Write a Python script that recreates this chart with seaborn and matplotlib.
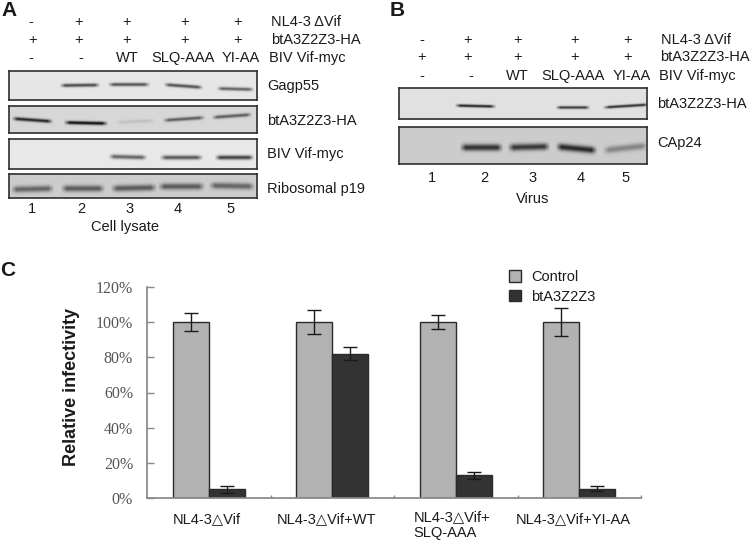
import numpy as np
import pandas as pd
import matplotlib
matplotlib.use("Agg")
import matplotlib.pyplot as plt
from matplotlib.patches import Patch
from matplotlib.transforms import ScaledTranslation
import seaborn as sns

# bar chart values (panel C)
groups = ["NL4-3△Vif", "NL4-3△Vif+WT", "NL4-3△Vif+\nSLQ-AAA", "NL4-3△Vif+YI-AA"]
control = [100, 100, 100, 100]
bta3 = [5, 82, 13, 5.5]
control_err = [5, 7, 4, 8]
bta3_err = [2, 3.7, 2, 1.2]
yticks = [0, 20, 40, 60, 80, 100, 120]

# band strength per lane, read off the blots (0 = no band)
gag = [0, 0.65, 0.62, 0.62, 0.55]
ha_lysate = [0.8, 0.9, 0.1, 0.55, 0.55]
vif_myc = [0, 0, 0.55, 0.6, 0.7]
ribo = [0.5, 0.55, 0.55, 0.55, 0.5]
ha_virus = [0, 0.8, 0, 0.7, 0.75]
cap24 = [0, 0.75, 0.72, 0.8, 0.35]

W, H = 750, 542
FS = 10.5
sns.set_theme(style="white")
plt.rcParams["font.family"] = ["Liberation Sans", "DejaVu Sans"]

fig = plt.figure(figsize=(7.5, 5.42), dpi=100)


def px_axes(x0, y0, x1, y1):
    return fig.add_axes([x0 / W, 1 - y1 / H, (x1 - x0) / W, (y1 - y0) / H])


def label(x, y, s, ha="left", size=FS, **kw):
    fig.text(x / W, 1 - y / H, s, ha=ha, va="center", fontsize=size, color="#1a1a1a", **kw)


def blot(box, density, spans, rows, bg, thick):
    x0, y0, x1, y1 = box
    w, h = x1 - x0, y1 - y0
    img = np.full((h, w), bg, dtype=float)
    yy = np.arange(h) + y0
    for d, (a, b), (ya, yb) in zip(density, spans, rows):
        if d == 0:
            continue
        for x in range(max(a, x0), min(b, x1)):
            t = (x - a) / (b - a)
            edge = min(1, min(t, 1 - t) * 7)
            mid = ya + (yb - ya) * t
            img[:, x - x0] -= d * edge * np.exp(-((yy - mid) / thick) ** 2) * bg
    ax = px_axes(*box)
    sns.heatmap(img, ax=ax, cmap="gray", vmin=0, vmax=1, cbar=False,
                xticklabels=False, yticklabels=False)
    ax.tick_params(length=0)
    for s in ax.spines.values():
        s.set_visible(True)
        s.set_color("#2e2e2e")
        s.set_linewidth(1.2)


# panel A blots
blot((9, 71, 257, 100), gag,
     [(11, 50), (59, 100), (107, 150), (163, 203), (216, 254)],
     [(85, 85), (85, 84.5), (84, 84), (84, 87), (88, 89)], 0.90, 1.8)
blot((9, 106, 257, 133), ha_lysate,
     [(11, 53), (63, 108), (115, 155), (162, 205), (211, 252)],
     [(118, 121), (122, 123), (122, 120), (120, 117), (117, 114)], 0.84, 1.8)
blot((9, 139, 257, 169), vif_myc,
     [(11, 50), (60, 100), (108, 147), (159, 203), (214, 254)],
     [(156, 156), (156, 156), (156, 157), (157, 157), (157, 157)], 0.91, 2.2)
blot((9, 174, 257, 198), ribo,
     [(10, 54), (60, 105), (110, 157), (157, 205), (208, 255)],
     [(189, 188), (188, 188), (188, 187), (186, 186), (185, 186)], 0.80, 3.2)

# panel B blots
blot((399, 88, 647, 119), ha_virus,
     [(400, 440), (454, 496), (500, 545), (555, 590), (602, 650)],
     [(105, 105), (105, 106), (105, 105), (107, 107), (107, 104)], 0.88, 1.5)
blot((399, 127, 647, 164), cap24,
     [(400, 440), (459, 503), (507, 550), (555, 597), (602, 648)],
     [(147, 147), (147, 147), (147, 146), (146, 150), (150, 145)], 0.80, 3.4)

# panel letters
label(1, 11, "A", size=15, fontweight="bold")
label(390, 10, "B", size=15, fontweight="bold")
label(0, 270, "C", size=15, fontweight="bold")

# treatment rows, panel A
for i, x in enumerate([31, 79, 127, 185, 238]):
    label(x, 22, "-" if i == 0 else "+", ha="center")
    label(x + 2 if i == 0 else x, 40, "+", ha="center")
for x, s in zip([31, 81, 127, 183, 241], ["-", "-", "WT", "SLQ-AAA", "YI-AA"]):
    label(x, 58, s, ha="center")
label(271, 22, "NL4-3 ΔVif")
label(271, 40, "btA3Z2Z3-HA")
label(269, 58, "BIV Vif-myc")
for y, s in zip([86, 121, 154, 189], ["Gagp55", "btA3Z2Z3-HA", "BIV Vif-myc", "Ribosomal p19"]):
    label(267, y, s)
for i, x in enumerate([32, 81, 130, 178, 231]):
    label(x, 209, str(i + 1), ha="center")
label(125, 227, "Cell lysate", ha="center")

# treatment rows, panel B
for i, x in enumerate([422, 468, 518, 575, 628]):
    label(x, 40, "-" if i == 0 else "+", ha="center")
    label(x, 57, "+", ha="center")
for x, s in zip([422, 471, 517, 573, 632], ["-", "-", "WT", "SLQ-AAA", "YI-AA"]):
    label(x, 76, s, ha="center")
label(661, 40, "NL4-3 ΔVif")
label(660, 57, "btA3Z2Z3-HA")
label(659, 76, "BIV Vif-myc")
label(657, 104, "btA3Z2Z3-HA")
label(657, 143, "CAp24")
for i, x in enumerate([432, 484, 533, 581, 626]):
    label(x, 178, str(i + 1), ha="center")
label(533, 199, "Virus", ha="center")

# panel C bars
df = pd.DataFrame({
    "group": groups * 2,
    "kind": ["Control"] * 4 + ["btA3Z2Z3"] * 4,
    "value": control + bta3,
})
colors = {"Control": "#b2b2b2", "btA3Z2Z3": "#333333"}
ax = px_axes(147, 286.7, 641, 498.3)
sns.barplot(data=df, x="group", y="value", hue="kind", palette=colors, width=0.585,
            gap=0, saturation=1, errorbar=None, edgecolor="#2a2a2a", linewidth=1,
            legend=False, ax=ax)

errs = control_err + bta3_err
for bar, e in zip([b for c in ax.containers for b in c], errs):
    ax.errorbar(bar.get_x() + bar.get_width() / 2, bar.get_height(), yerr=e, color="#1a1a1a",
                capsize=5, lw=1, capthick=1)

ax.set_xlim(-0.5, 3.5)
ax.set_ylim(0, 120)
ax.set_xlabel("")
ax.set_ylabel("")
ax.set_yticks(yticks)
ax.set_yticklabels([f"{v}%" for v in yticks], family="Liberation Serif", fontsize=11.5, color="#555555")
ax.set_xticks([0.5, 1.5, 2.5, 3.5], minor=True)
ax.tick_params(axis="y", direction="in", length=5, color="#888888", width=1, left=True, pad=10)
ax.tick_params(axis="x", which="minor", direction="in", length=2, color="#888888", bottom=True)
ax.tick_params(axis="x", which="major", length=0, pad=10, labelsize=FS)
sns.despine(ax=ax)
ax.spines["left"].set_color("#888888")
ax.spines["bottom"].set_color("#888888")

nudge = [(-2, 0), (-6, 0), (-4, 2.5), (-6, 0)]
for t, (dx, dy) in zip(ax.get_xticklabels(), nudge):
    t.set_color("#1a1a1a")
    t.set_multialignment("left")
    t.set_linespacing(1.25)
    t.set_transform(t.get_transform() + ScaledTranslation(dx / 100, dy / 100, fig.dpi_scale_trans))

fig.text(72 / W, 1 - 387 / H, "Relative infectivity", rotation=90, ha="center", va="center",
         fontsize=13, fontweight="bold", color="#1a1a1a")

handles = [Patch(facecolor=colors[k], edgecolor="#2a2a2a", label=k) for k in colors]
fig.legend(handles=handles, loc="upper left", bbox_to_anchor=(509 / W, 1 - 270 / H), frameon=False,
           fontsize=FS, handlelength=0.85, handleheight=0.8, handletextpad=0.65, labelspacing=0.4,
           borderpad=0, borderaxespad=0, labelcolor="#1a1a1a")

fig.savefig("out.png", dpi=100)
